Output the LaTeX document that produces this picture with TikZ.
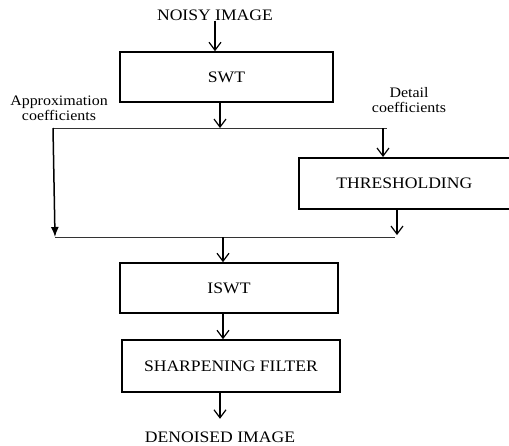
\documentclass[tikz,border=0pt]{standalone}
\usepackage{fontspec}
\setmainfont{Liberation Serif}[FakeStretch=1.1]
\usepackage{tikz}
\usetikzlibrary{arrows.meta}

\tikzset{
  blk/.style={draw, line width=1.6pt, minimum width=213pt, minimum height=50pt,
    font=\fontsize{16}{18}\selectfont},
  lbl/.style={align=center, inner sep=0pt, font=\fontsize{14.5}{15}\selectfont},
  io/.style={inner sep=0pt, font=\fontsize{16}{18}\selectfont},
  arr/.style={-{Straight Barb[length=8pt,width=12pt]}, line width=1.2pt},
  farr/.style={-{Latex[length=10pt,width=8pt]}, line width=1.5pt},
  bus/.style={line width=0.8pt, black!80}
}

\begin{document}
\begin{tikzpicture}[x=1pt, y=-1pt]
	\useasboundingbox (0,0) rectangle (509,445);
	% blocks
	\node[io] (noisy) at (215,15) {NOISY IMAGE};
	\node[blk] (swt) at (226.5,77) {SWT};
	\node[blk, minimum width=215pt, minimum height=51pt, anchor=north west] (thr) at (298,157) {\hspace*{-4pt}THRESHOLDING};
	\node[blk, minimum width=218pt] (iswt) at (229,288) {ISWT};
	\node[blk, minimum width=218pt, minimum height=52pt] (sharp) at (231,366) {SHARPENING FILTER};
	\node[io] (denoised) at (220,437) {DENOISED IMAGE};
	% branch labels
	\node[lbl] (approx) at (59,108) {Approximation\\coefficients};
	\node[lbl] (detail) at (409,100) {Detail\\coefficients};
	% split and merge points
	\coordinate (split) at (220,128);
	\coordinate (aL) at (53,128);
	\coordinate (dR) at (387,128);
	\coordinate (dtop) at (383,128);
	\coordinate (aJ) at (55,237);
	\coordinate (jR) at (395,237);
	\coordinate (tj) at (397,235);
	\coordinate (merge) at (223,237);
	% connectors
	\draw[arr] (noisy.south) -- (noisy.south |- swt.north);
	\draw[arr] (split |- swt.south) -- (split);
	\draw[bus] (aL) -- (dR);
	\draw[arr] (dtop) -- (dtop |- thr.north);
	\draw[farr] (aL) -- (aJ);
	\draw[arr] (tj |- thr.south) -- (tj);
	\draw[bus] (aJ) -- (jR);
	\draw[arr] (merge) -- (merge |- iswt.north);
	\draw[arr] (merge |- iswt.south) -- (merge |- sharp.north);
	\draw[arr] (denoised |- sharp.south) -- ++(0,26);
\end{tikzpicture}
\end{document}
